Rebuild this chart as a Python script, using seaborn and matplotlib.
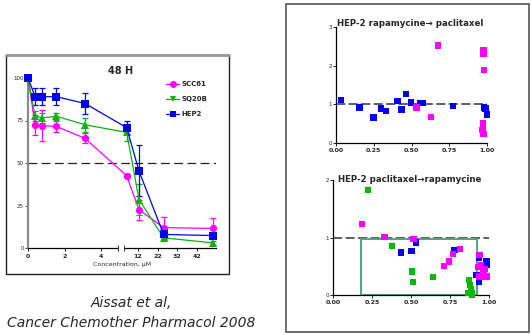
import numpy as np
import pandas as pd
import matplotlib
matplotlib.use("Agg")
import matplotlib.pyplot as plt
import seaborn as sns
from matplotlib.patches import Rectangle
from matplotlib.lines import Line2D

sns.set_style("white")
plt.rcParams['font.family'] = ['DejaVu Sans']

# ---- left panel: viability after 48 h ----
conc = [0, 0.39, 0.78, 1.56, 3.125, 6.25, 12.5, 25, 50]
scc61 = [100, 72.5, 72, 71.5, 64.5, 42.5, 22.5, 12, 11.5]
scc61_sd = [0, 6, 9, 3, 3, 1, 6, 6.5, 6]
sq20b = [100, 77.5, 76.5, 77.5, 72.5, 68, 28.5, 6, 3]
sq20b_sd = [0, 3, 3, 2, 4, 5, 9, 1, 1]
hep2 = [100, 89, 89, 89, 85, 70.8, 45.3, 8, 7.3]
hep2_sd = [0, 5, 5, 5, 6, 4, 15, 2, 1]
lines = ['SCC61', 'SQ20B', 'HEP2']
line_colors = {'SCC61': '#ff00ff', 'SQ20B': '#11b011', 'HEP2': '#0000f0'}
x_ticks = [0, 2, 4, 12, 22, 32, 42]
y_ticks = [0, 25, 50, 75, 100]

# ---- right panels: combination index scatter ----
top_blue_x = [0.033, 0.155, 0.249, 0.30, 0.333, 0.408, 0.433, 0.464, 0.497, 0.558, 0.576, 0.773, 0.982, 0.989, 0.998]
top_blue_y = [1.11, 0.92, 0.66, 0.89, 0.83, 1.08, 0.87, 1.26, 1.05, 1.04, 1.04, 0.95, 0.92, 0.89, 0.74]
top_pink_x = [0.532, 0.629, 0.675, 0.978, 0.978, 0.982, 0.973, 0.971, 0.978]
top_pink_y = [0.92, 0.68, 2.52, 2.39, 2.30, 1.89, 0.50, 0.33, 0.24]

bot_green_x = [0.224, 0.38, 0.507, 0.514, 0.64, 0.872, 0.878, 0.885, 0.868, 0.89, 0.89]
bot_green_y = [1.83, 0.85, 0.41, 0.23, 0.31, 0.26, 0.17, 0.10, 0.04, 0.03, 0.0]
bot_pink_x = [0.186, 0.33, 0.516, 0.71, 0.744, 0.77, 0.815, 0.94, 0.93, 0.94, 0.965, 0.975, 0.985, 0.95]
bot_pink_y = [1.23, 1.01, 0.97, 0.50, 0.58, 0.71, 0.80, 0.70, 0.49, 0.32, 0.42, 0.45, 0.32, 0.52]
bot_blue_x = [0.533, 0.437, 0.503, 0.78, 0.934, 0.92, 0.934, 0.985, 0.985, 0.96]
bot_blue_y = [0.91, 0.74, 0.76, 0.78, 0.64, 0.35, 0.23, 0.58, 0.52, 0.35]
synergy_x = (0.181, 0.921)
synergy_y = (0.0, 0.974)
dot_colors = {'blue': '#0000ee', 'pink': '#ff00ff', 'green': '#00bb00'}

W, H = 531, 335
fig = plt.figure(figsize=(W / 100, H / 100), dpi=100)
fig.patch.set_facecolor('white')


def px_axes(x0, y0, x1, y1):
    return fig.add_axes([x0 / W, 1 - y1 / H, (x1 - x0) / W, (y1 - y0) / H])


# broken x axis (Prism style): two linear pieces
BREAK = 4.93
PX_LOW = 18.25
PX_HIGH = 1.967
PX_AT_12 = 110.0
X_MAX = 51.5


def fwd(x):
    x = np.asarray(x, dtype=float)
    return np.where(x <= BREAK, x * PX_LOW, PX_AT_12 + (x - 12) * PX_HIGH)


def inv(p):
    p = np.asarray(p, dtype=float)
    hi = 12 + (p - PX_AT_12) / PX_HIGH
    return np.where(p <= BREAK * PX_LOW, p / PX_LOW, np.maximum(hi, BREAK))


span = float(fwd(X_MAX))
ax = px_axes(28, 78, 28 + span, 248)

df = pd.DataFrame({
    'conc': conc * 3,
    'viab': scc61 + sq20b + hep2,
    'sd': scc61_sd + sq20b_sd + hep2_sd,
    'line': [n for n in lines for _ in conc],
})

for name in lines:
    d = df[df['line'] == name]
    ax.errorbar(d['conc'], d['viab'], yerr=d['sd'], fmt='none',
                ecolor=line_colors[name], elinewidth=0.9, capsize=2.4,
                capthick=0.9, clip_on=False, zorder=2)

sns.lineplot(data=df, x='conc', y='viab', hue='line', style='line',
             hue_order=lines, style_order=lines, palette=line_colors,
             markers={'SCC61': 'o', 'SQ20B': '^', 'HEP2': 's'}, dashes=False,
             markersize=5.2, markeredgewidth=0, linewidth=0.9, errorbar=None,
             legend=False, ax=ax, clip_on=False, zorder=3)

ax.set_xscale('function', functions=(fwd, inv))
ax.set_xlim(0, X_MAX)
ax.set_ylim(0, 100)
ax.axhline(50, color='#222222', lw=0.9, dashes=(7, 3.6), zorder=1)

ax.set_xticks(x_ticks)
ax.set_xticklabels([str(t) for t in x_ticks], fontsize=4.5, fontweight='bold')
ax.set_xticks([BREAK, BREAK + 0.001], minor=True)
ax.set_yticks(y_ticks)
ax.set_yticklabels([str(t) for t in y_ticks], fontsize=4)
ax.tick_params(axis='x', which='major', length=2.5, width=0.7, pad=1.5, bottom=True)
ax.tick_params(axis='x', which='minor', length=5, width=0.8, direction='inout', bottom=True)
ax.tick_params(axis='y', length=2, width=0.6, pad=1, left=True)
ax.set_xlabel('Concentration, µM', fontsize=4.5, labelpad=2.5)
ax.set_ylabel('')
for s in ['top', 'right']:
    ax.spines[s].set_visible(False)
ax.spines['left'].set_color('#8a8a8a')
ax.spines['left'].set_linewidth(1.6)
ax.spines['bottom'].set_color('black')
ax.spines['bottom'].set_linewidth(0.9)
f0 = (float(fwd(BREAK)) + 0.6) / span
f1 = (float(fwd(BREAK + 0.001)) - 0.6) / span
ax.add_patch(Rectangle((f0, -0.012), f1 - f0, 0.024, transform=ax.transAxes,
                       color='white', zorder=3, clip_on=False))

fig.text(121 / W, 1 - 71 / H, '48 H', fontsize=7, fontweight='bold',
         ha='center', va='center')

handles = [
    Line2D([], [], color=line_colors['SCC61'], marker='o', markersize=5, lw=0.9, mew=0),
    Line2D([], [], color=line_colors['SQ20B'], marker='v', markersize=5, lw=0.9, mew=0),
    Line2D([], [], color=line_colors['HEP2'], marker='s', markersize=5, lw=0.9, mew=0),
]
fig.legend(handles, lines, loc='upper left', bbox_to_anchor=(166 / W, 1 - 81 / H),
           frameon=False, prop={'weight': 'bold', 'size': 5},
           handlelength=1.9, handletextpad=0.3, labelspacing=1.3, borderpad=0,
           borderaxespad=0)

# left frame
fig.add_artist(Rectangle((6 / W, 1 - 274 / H), 223 / W, 219 / H,
                         transform=fig.transFigure, fill=False,
                         edgecolor='#222222', lw=1))
fig.add_artist(Line2D([6 / W, 229 / W], [1 - 55 / H, 1 - 55 / H],
                      transform=fig.transFigure, color='#999999', lw=2))

fig.text(131 / W, 1 - 303 / H, 'Aissat et al,', fontsize=10, style='italic',
         ha='center', va='center')
fig.text(131 / W, 1 - 323 / H, 'Cancer Chemother Pharmacol 2008', fontsize=10,
         style='italic', ha='center', va='center')


# ---- right panels ----
def ci_panel(axr, frames, ymax):
    data = pd.concat(frames, ignore_index=True)
    sns.scatterplot(data=data, x='x', y='y', hue='group', palette=dot_colors,
                    marker='s', s=21, linewidth=0, legend=False, ax=axr,
                    clip_on=False, zorder=3)
    axr.axhline(1, color='#333333', lw=1.1, dashes=(6, 2.2), zorder=1)
    axr.set_xlim(0, 1)
    axr.set_ylim(0, ymax)
    axr.set_xticks([0, 0.25, 0.5, 0.75, 1.0])
    axr.set_xticklabels(['0.00', '0.25', '0.50', '0.75', '1.00'],
                        fontsize=4.5, fontweight='bold')
    axr.set_yticks(range(ymax + 1))
    axr.set_yticklabels([str(v) for v in range(ymax + 1)], fontsize=4)
    axr.tick_params(axis='x', length=2.5, width=0.7, pad=1.2, bottom=True)
    axr.tick_params(axis='y', length=2, width=0.7, pad=1, left=True)
    axr.set_xlabel('')
    axr.set_ylabel('')
    for s in ['top', 'right']:
        axr.spines[s].set_visible(False)
    for s in ['left', 'bottom']:
        axr.spines[s].set_color('black')
        axr.spines[s].set_linewidth(0.9)


def frame(xs, ys, group):
    return pd.DataFrame({'x': xs, 'y': ys, 'group': group})


ax_top = px_axes(336, 27, 487, 143)
ci_panel(ax_top, [frame(top_blue_x, top_blue_y, 'blue'),
                  frame(top_pink_x, top_pink_y, 'pink')], 3)
fig.text(337 / W, 1 - 24 / H, 'HEP-2 rapamycine→ paclitaxel', fontsize=6.2,
         fontweight='bold', ha='left', va='center')

ax_bot = px_axes(333, 180, 489, 295)
ax_bot.add_patch(Rectangle((synergy_x[0], synergy_y[0]),
                           synergy_x[1] - synergy_x[0], synergy_y[1] - synergy_y[0],
                           fill=False, edgecolor='#4fa37a', lw=1.4, zorder=2))
ci_panel(ax_bot, [frame(bot_green_x, bot_green_y, 'green'),
                  frame(bot_blue_x, bot_blue_y, 'blue'),
                  frame(bot_pink_x, bot_pink_y, 'pink')], 2)
fig.text(338 / W, 1 - 180 / H, 'HEP-2 paclitaxel→rapamycine', fontsize=6.2,
         fontweight='bold', ha='left', va='center')

# right frame
fig.add_artist(Rectangle((286 / W, 1 - 332 / H), 243 / W, 328 / H,
                         transform=fig.transFigure, fill=False,
                         edgecolor='#555555', lw=1.2))

fig.savefig('out.png', dpi=100)
